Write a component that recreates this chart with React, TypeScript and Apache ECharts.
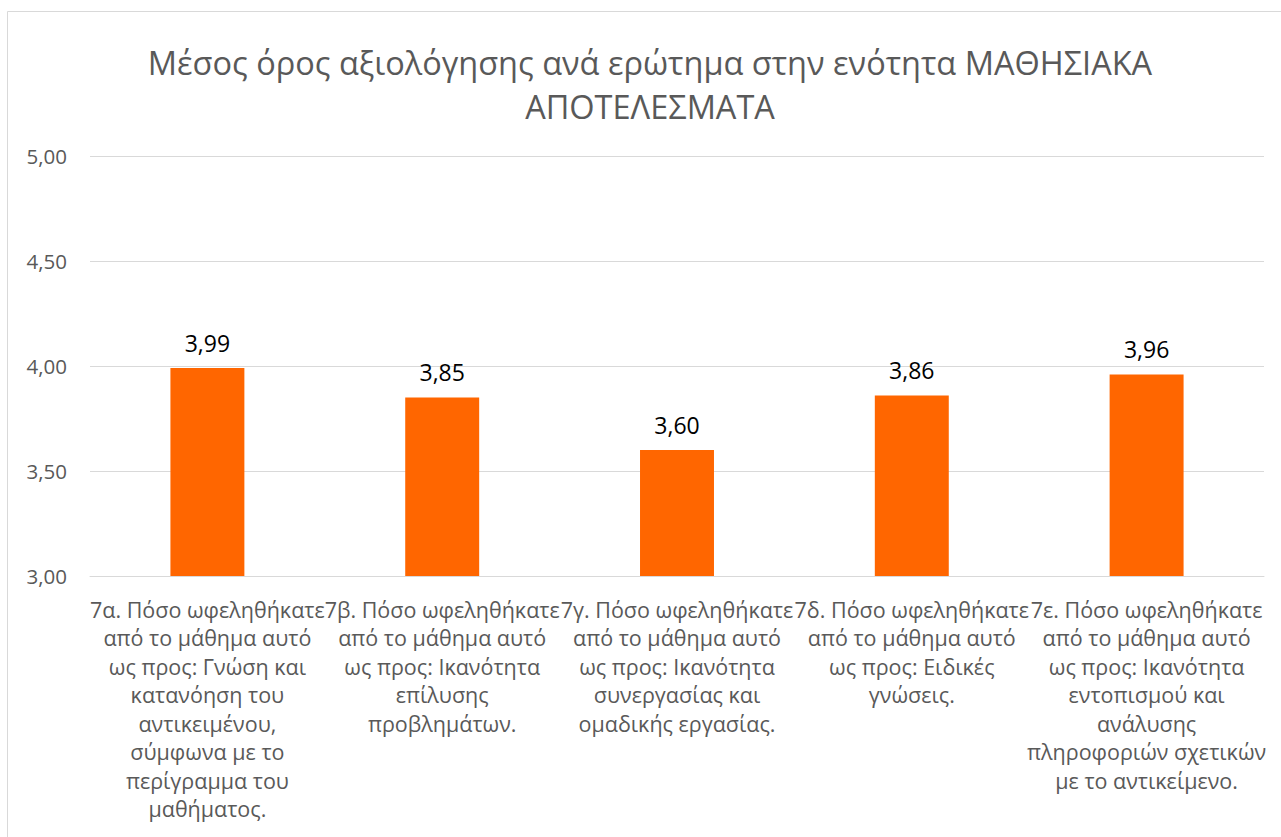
import React, { useEffect, useRef } from "react";
import * as echarts from "echarts";

const titleLines = [
  "Μέσος όρος αξιολόγησης ανά ερώτημα στην ενότητα ΜΑΘΗΣΙΑΚΑ",
  "ΑΠΟΤΕΛΕΣΜΑΤΑ",
];

const categories = [
  "7α. Πόσο ωφεληθήκατε\nαπό το μάθημα αυτό\nως προς: Γνώση και\nκατανόηση του\nαντικειμένου,\nσύμφωνα με το\nπερίγραμμα του\nμαθήματος.",
  "7β. Πόσο ωφεληθήκατε\nαπό το μάθημα αυτό\nως προς: Ικανότητα\nεπίλυσης\nπροβλημάτων.",
  "7γ. Πόσο ωφεληθήκατε\nαπό το μάθημα αυτό\nως προς: Ικανότητα\nσυνεργασίας και\nομαδικής εργασίας.",
  "7δ. Πόσο ωφεληθήκατε\nαπό το μάθημα αυτό\nως προς: Ειδικές\nγνώσεις.",
  "7ε. Πόσο ωφεληθήκατε\nαπό το μάθημα αυτό\nως προς: Ικανότητα\nεντοπισμού και\nανάλυσης\nπληροφοριών σχετικών\nμε το αντικείμενο.",
];

const values = [3.99, 3.85, 3.6, 3.86, 3.96];

const yMin = 3;
const yMax = 5;
const yStep = 0.5;

const FONT = "'Open Sans', 'Noto Sans', sans-serif";
const fmt = (v: number) => v.toFixed(2).replace(".", ",");

export default function App() {
  const ref = useRef<HTMLDivElement>(null);
  useEffect(() => {
    if (!ref.current) return;
    const chart = echarts.init(ref.current, null, { renderer: "svg" });
    chart.setOption({
      animation: false,
      backgroundColor: "#ffffff",
      title: {
        text: titleLines.join("\n"),
        left: 645,
        textAlign: "center",
        top: 35,
        textStyle: {
          fontFamily: FONT,
          fontSize: 32.5,
          fontWeight: "normal",
          color: "#595959",
          lineHeight: 44,
        },
      },
      graphic: [
        {
          type: "rect",
          shape: { x: 7.5, y: 11.5, width: 1300, height: 900 },
          style: { fill: "none", stroke: "#D9D9D9", lineWidth: 1 },
          silent: true,
        },
      ],
      grid: { left: 90, right: 17, top: 156, bottom: 261, containLabel: false },
      xAxis: {
        type: "category",
        data: categories,
        axisLine: { show: true, lineStyle: { color: "#D9D9D9", width: 1 } },
        axisTick: { show: false },
        axisLabel: {
          interval: 0,
          fontFamily: FONT,
          fontSize: 21.5,
          lineHeight: 28.5,
          color: "#595959",
          margin: 19,
        },
      },
      yAxis: {
        type: "value",
        min: yMin,
        max: yMax,
        interval: yStep,
        axisLine: { show: false },
        axisTick: { show: false },
        splitLine: { lineStyle: { color: "#D9D9D9", width: 1 } },
        axisLabel: {
          formatter: (v: number) => fmt(v),
          fontFamily: FONT,
          fontSize: 20.5,
          color: "#595959",
          margin: 23,
        },
      },
      series: [
        {
          type: "bar",
          data: values,
          barWidth: "31.5%",
          itemStyle: { color: "#FF6600" },
          label: {
            show: true,
            position: "top",
            distance: 14,
            formatter: (p: any) => fmt(p.value),
            fontFamily: FONT,
            fontSize: 23,
            color: "#000000",
          },
        },
      ],
    });
    return () => chart.dispose();
  }, []);
  return (
    <div
      ref={ref}
      style={{ position: "absolute", left: 0, top: 0, width: 1281, height: 837 }}
    />
  );
}
